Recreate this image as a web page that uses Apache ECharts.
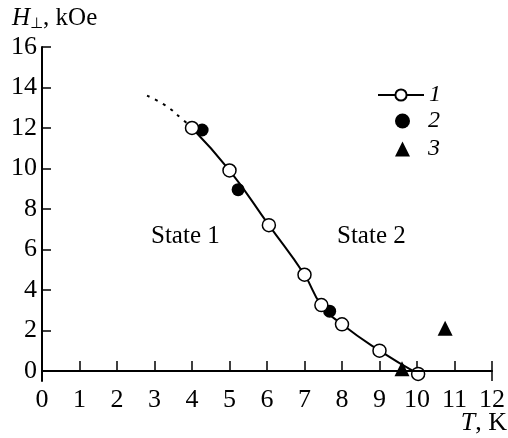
<!DOCTYPE html>
<html><head><meta charset="utf-8">
<script src="https://cdn.jsdelivr.net/npm/echarts@6/dist/echarts.min.js"></script>
<style>html,body{margin:0;padding:0;background:#fff}#c{width:508px;height:438px}</style>
</head><body><div id="c"></div>
<script>
const xTicks = [0,1,2,3,4,5,6,7,8,9,10,11,12];
const yTicks = [0,2,4,6,8,10,12,14,16];
const series1 = [[4,12],[5,9.9],[6.05,7.2],[7,4.75],[7.45,3.25],[8,2.3],[9,1.0],[10.03,-0.15]];
const series1Dotted = [[2.8,13.6],[3.3,13.1],[3.7,12.5],[4,12]];
const series2 = [[4.27,11.9],[5.23,8.95],[7.67,2.95]];
const series3 = [[9.6,0.1],[10.75,2.1]];
const stripEdge = [[12,-0.5],[12,0]];
const FONT = '"Liberation Serif","Times New Roman",serif';

const chart = echarts.init(document.getElementById('c'));
chart.setOption({
  animation: false,
  grid: {left: 42, right: 13, top: 47, bottom: 57},
  xAxis: {
    type: 'value', min: 0, max: 12, interval: 1,
    axisLine: {lineStyle: {color: '#000', width: 2}},
    axisTick: {inside: true, length: 10, lineStyle: {color: '#000', width: 1.5}},
    axisLabel: {color: '#000', fontFamily: FONT, fontSize: 26, margin: 6},
    splitLine: {show: false}
  },
  yAxis: {
    type: 'value', min: -0.5, max: 16,
    axisLine: {show: true, lineStyle: {color: '#000', width: 2}},
    axisTick: {show: true, inside: true, length: 9, customValues: yTicks, lineStyle: {color: '#000', width: 1.5}},
    axisLabel: {color: '#000', fontFamily: FONT, fontSize: 26, margin: 5, customValues: yTicks},
    splitLine: {show: false}
  },
  legend: [
    {
      orient: 'vertical', left: 372, top: 78, itemWidth: 46, itemHeight: 14,
      data: ['1'],
      textStyle: {fontFamily: FONT, fontSize: 24, fontStyle: 'italic', color: '#000', padding: [0,0,0,0]}
    },
    {
      orient: 'vertical', left: 390, top: 104, itemWidth: 15, itemHeight: 15, itemGap: 4,
      data: [{name: '2', icon: 'circle'}, {name: '3', icon: 'triangle'}],
      textStyle: {fontFamily: FONT, fontSize: 24, fontStyle: 'italic', color: '#000', padding: [0,0,0,13]}
    }
  ],
  series: [
    {
      type: 'line', name: 'strip', data: stripEdge, symbol: 'none', silent: true,
      lineStyle: {color: '#000', width: 1.5},
      markLine: {symbol: 'none', silent: true, label: {show: false},
        lineStyle: {color: '#000', width: 2, type: 'solid'},
        data: [{yAxis: 0}]}
    },
    {
      type: 'line', name: 'dotted', data: series1Dotted, smooth: true, symbol: 'none',
      lineStyle: {color: '#000', width: 2, type: [3, 6]}
    },
    {
      type: 'line', name: '1', data: series1, smooth: true, symbol: 'circle', symbolSize: 13,
      lineStyle: {color: '#000', width: 2},
      itemStyle: {color: '#fff', borderColor: '#000', borderWidth: 1.5}, z: 3
    },
    {
      type: 'scatter', name: '2', data: series2, symbol: 'circle', symbolSize: 13,
      itemStyle: {color: '#000', opacity: 1}, z: 2
    },
    {
      type: 'scatter', name: '3', data: series3, symbol: 'triangle', symbolSize: 15,
      itemStyle: {color: '#000', opacity: 1}, z: 4
    }
  ],
  graphic: [
    {type: 'text', left: 12, top: 6, style: {
      text: '{i|H}{s|⊥}{n|, kOe}', fill: '#000',
      rich: {
        i: {fontFamily: FONT, fontSize: 25, fontStyle: 'italic'},
        s: {fontFamily: 'DejaVu Sans', fontSize: 15, verticalAlign: 'bottom', padding: [12,0,0,0]},
        n: {fontFamily: FONT, fontSize: 25}
      }}},
    {type: 'text', right: 1, top: 410, style: {
      text: '{i|T}{n|, K}', fill: '#000',
      rich: {
        i: {fontFamily: FONT, fontSize: 26, fontStyle: 'italic'},
        n: {fontFamily: FONT, fontSize: 26}
      }}},
    {type: 'text', left: 151, top: 224, style: {text: 'State 1', fontFamily: FONT, fontSize: 25, fill: '#000'}},
    {type: 'text', left: 337, top: 224, style: {text: 'State 2', fontFamily: FONT, fontSize: 25, fill: '#000'}}
  ]
});
</script></body></html>
